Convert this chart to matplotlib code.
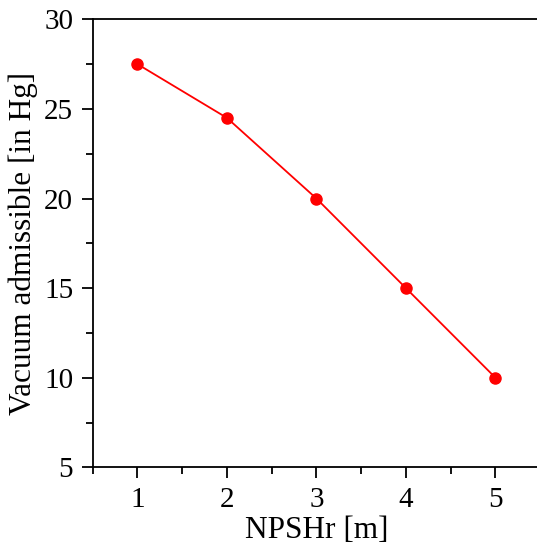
import matplotlib.pyplot as plt
from matplotlib.ticker import MultipleLocator

# data
npshr = [1, 2, 3, 4, 5]
vacuum = [27.5, 24.5, 20.0, 15.0, 10.0]

plt.rcParams['font.family'] = 'Liberation Serif'

fig = plt.figure(figsize=(5.37, 5.49), dpi=100)
ax = fig.add_axes([0.1726, 0.1488, 0.8333, 0.816])

ax.plot(npshr, vacuum, color='#ff0000', lw=1.3, marker='o', ms=8)

ax.set_xlim(0.5, 5.5)
ax.set_ylim(5, 30)
ax.xaxis.set_major_locator(MultipleLocator(1))
ax.xaxis.set_minor_locator(MultipleLocator(0.5))
ax.yaxis.set_major_locator(MultipleLocator(5))
ax.yaxis.set_minor_locator(MultipleLocator(2.5))

for s in ax.spines.values():
    s.set_linewidth(1.3)
ax.spines['right'].set_visible(False)

ax.tick_params(which='major', direction='out', length=8, width=1.3, labelsize=21, pad=6)
ax.tick_params(which='minor', direction='out', length=5, width=1.3)
ax.tick_params(top=False, right=False, which='both')

ax.set_xlabel('NPSHr [m]', fontsize=22.5, labelpad=2)
ax.set_ylabel('Vacuum admissible [in Hg]', fontsize=22.5, labelpad=4)

plt.savefig('out.png', dpi=100)
